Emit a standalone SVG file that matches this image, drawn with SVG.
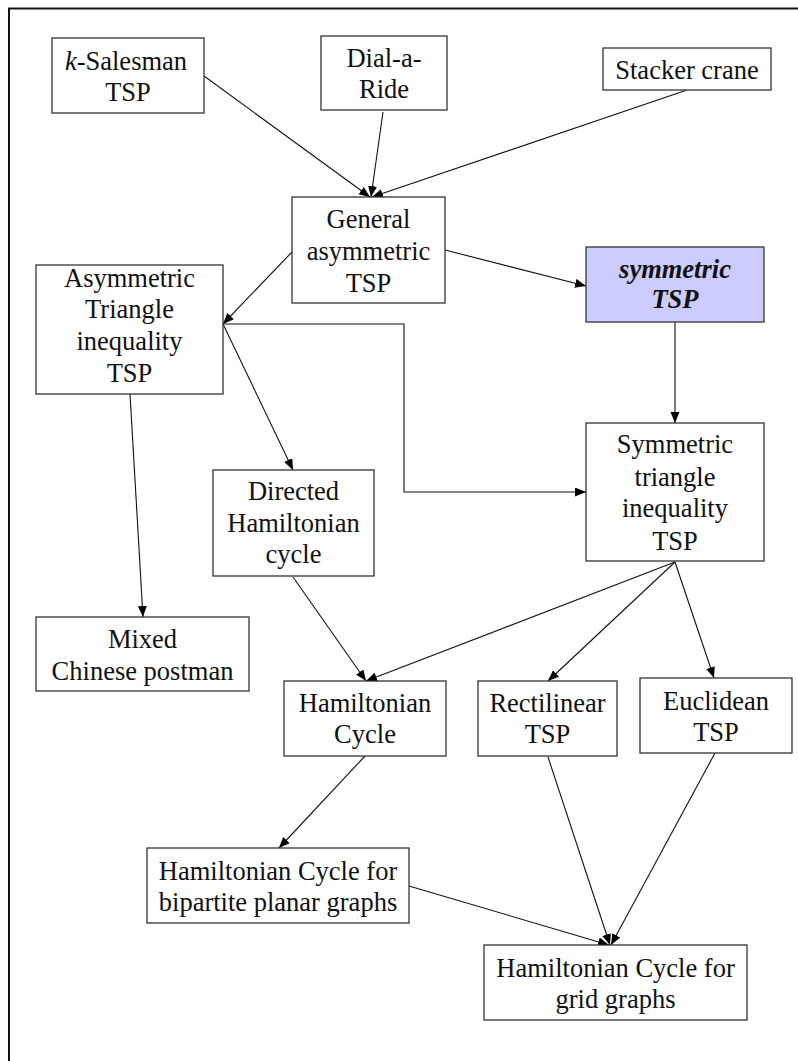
<svg xmlns="http://www.w3.org/2000/svg" width="798" height="1061" viewBox="0 0 798 1061" font-family="Liberation Serif, Times New Roman, DejaVu Serif, serif">
  <style>
    .box { fill: #ffffff; stroke: #333333; stroke-width: 1.3; }
    .hl { fill: #ccccff; stroke: #333333; stroke-width: 1.3; }
    .lbl { font-size: 26.5px; fill: #111111; text-anchor: middle; }
    .bi { font-weight: bold; font-style: italic; }
    .edge { fill: none; stroke: #111111; stroke-width: 1.1; marker-end: url(#arrow); }
    .frame { fill: none; stroke: #111111; stroke-width: 2; }
  </style>
  <defs>
    <marker id="arrow" markerUnits="userSpaceOnUse" markerWidth="12" markerHeight="10" refX="11" refY="4.5" orient="auto">
      <path d="M0,0 L11,4.5 L0,9 z" fill="#000000"/>
    </marker>
  </defs>

  <rect width="798" height="1061" fill="#ffffff"/>
  <!-- open frame: top and left edges only -->
  <path class="frame" d="M9,1061 V8.5 H798"/>

  <g id="connectors">
    <path class="edge" d="M204,76 L370,197"/>
    <path class="edge" d="M383,112 L371,197"/>
    <path class="edge" d="M687,90 L372,197"/>
    <path class="edge" d="M292,252 L223,324"/>
    <path class="edge" d="M445,250 L586,286"/>
    <path class="edge" d="M675,322 L675,423"/>
    <path class="edge" d="M223,324 H404 V492 H586"/>
    <path class="edge" d="M223,324 L293,470"/>
    <path class="edge" d="M130,394 L143,617"/>
    <path class="edge" d="M293,577 L366,681"/>
    <path class="edge" d="M675,562 L366,681"/>
    <path class="edge" d="M675,562 L548,681"/>
    <path class="edge" d="M675,562 L714,678"/>
    <path class="edge" d="M365,756 L279,848"/>
    <path class="edge" d="M409,886 L609,945"/>
    <path class="edge" d="M548,757 L610,945"/>
    <path class="edge" d="M715,753 L611,945"/>
  </g>

  <g id="k-salesman">
    <rect class="box" x="52" y="38" width="152" height="75"/>
    <text class="lbl" x="126" y="70" font-family="Liberation Serif"><tspan font-style="italic">k</tspan>-Salesman</text>
    <text class="lbl" x="128" y="101" font-family="Liberation Serif">TSP</text>
  </g>
  <g id="dial-a-ride">
    <rect class="box" x="321" y="36" width="126" height="74"/>
    <text class="lbl" x="384" y="67">Dial-a-</text>
    <text class="lbl" x="384" y="98">Ride</text>
  </g>
  <g id="stacker-crane">
    <rect class="box" x="603" y="48" width="168" height="42"/>
    <text class="lbl" x="687" y="79">Stacker crane</text>
  </g>
  <g id="general-asymmetric">
    <rect class="box" x="292" y="197" width="153" height="106"/>
    <text class="lbl" x="368.5" y="228">General</text>
    <text class="lbl" x="368.5" y="260">asymmetric</text>
    <text class="lbl" x="368.5" y="292">TSP</text>
  </g>
  <g id="symmetric-tsp">
    <rect class="hl" x="586" y="247" width="178" height="75"/>
    <text class="lbl bi" x="675" y="278">symmetric</text>
    <text class="lbl bi" x="675" y="308">TSP</text>
  </g>
  <g id="asymmetric-triangle">
    <rect class="box" x="36" y="265" width="187" height="129"/>
    <text class="lbl" x="129.5" y="287">Asymmetric</text>
    <text class="lbl" x="129.5" y="318">Triangle</text>
    <text class="lbl" x="129.5" y="350">inequality</text>
    <text class="lbl" x="129.5" y="382">TSP</text>
  </g>
  <g id="directed-hamiltonian">
    <rect class="box" x="213" y="470" width="161" height="106"/>
    <text class="lbl" x="293.5" y="500">Directed</text>
    <text class="lbl" x="293.5" y="532">Hamiltonian</text>
    <text class="lbl" x="293.5" y="563">cycle</text>
  </g>
  <g id="mixed-chinese-postman">
    <rect class="box" x="36" y="617" width="213" height="74"/>
    <text class="lbl" x="142.5" y="648">Mixed</text>
    <text class="lbl" x="142.5" y="680">Chinese postman</text>
  </g>
  <g id="symmetric-triangle">
    <rect class="box" x="586" y="423" width="178" height="138"/>
    <text class="lbl" x="675" y="453">Symmetric</text>
    <text class="lbl" x="675" y="486">triangle</text>
    <text class="lbl" x="675" y="517">inequality</text>
    <text class="lbl" x="675" y="550">TSP</text>
  </g>
  <g id="hamiltonian-cycle">
    <rect class="box" x="284" y="681" width="162" height="75"/>
    <text class="lbl" x="365" y="712">Hamiltonian</text>
    <text class="lbl" x="365" y="743">Cycle</text>
  </g>
  <g id="rectilinear-tsp">
    <rect class="box" x="478" y="681" width="139" height="75"/>
    <text class="lbl" x="547.5" y="712">Rectilinear</text>
    <text class="lbl" x="547.5" y="743">TSP</text>
  </g>
  <g id="euclidean-tsp">
    <rect class="box" x="640" y="678" width="152" height="75"/>
    <text class="lbl" x="716" y="710">Euclidean</text>
    <text class="lbl" x="716" y="741">TSP</text>
  </g>
  <g id="hc-bipartite-planar">
    <rect class="box" x="147" y="848" width="262" height="75"/>
    <text class="lbl" x="278" y="880">Hamiltonian Cycle for</text>
    <text class="lbl" x="278" y="911">bipartite planar graphs</text>
  </g>
  <g id="hc-grid">
    <rect class="box" x="484" y="945" width="263" height="75"/>
    <text class="lbl" x="615.5" y="977">Hamiltonian Cycle for</text>
    <text class="lbl" x="615.5" y="1008">grid graphs</text>
  </g>
</svg>
